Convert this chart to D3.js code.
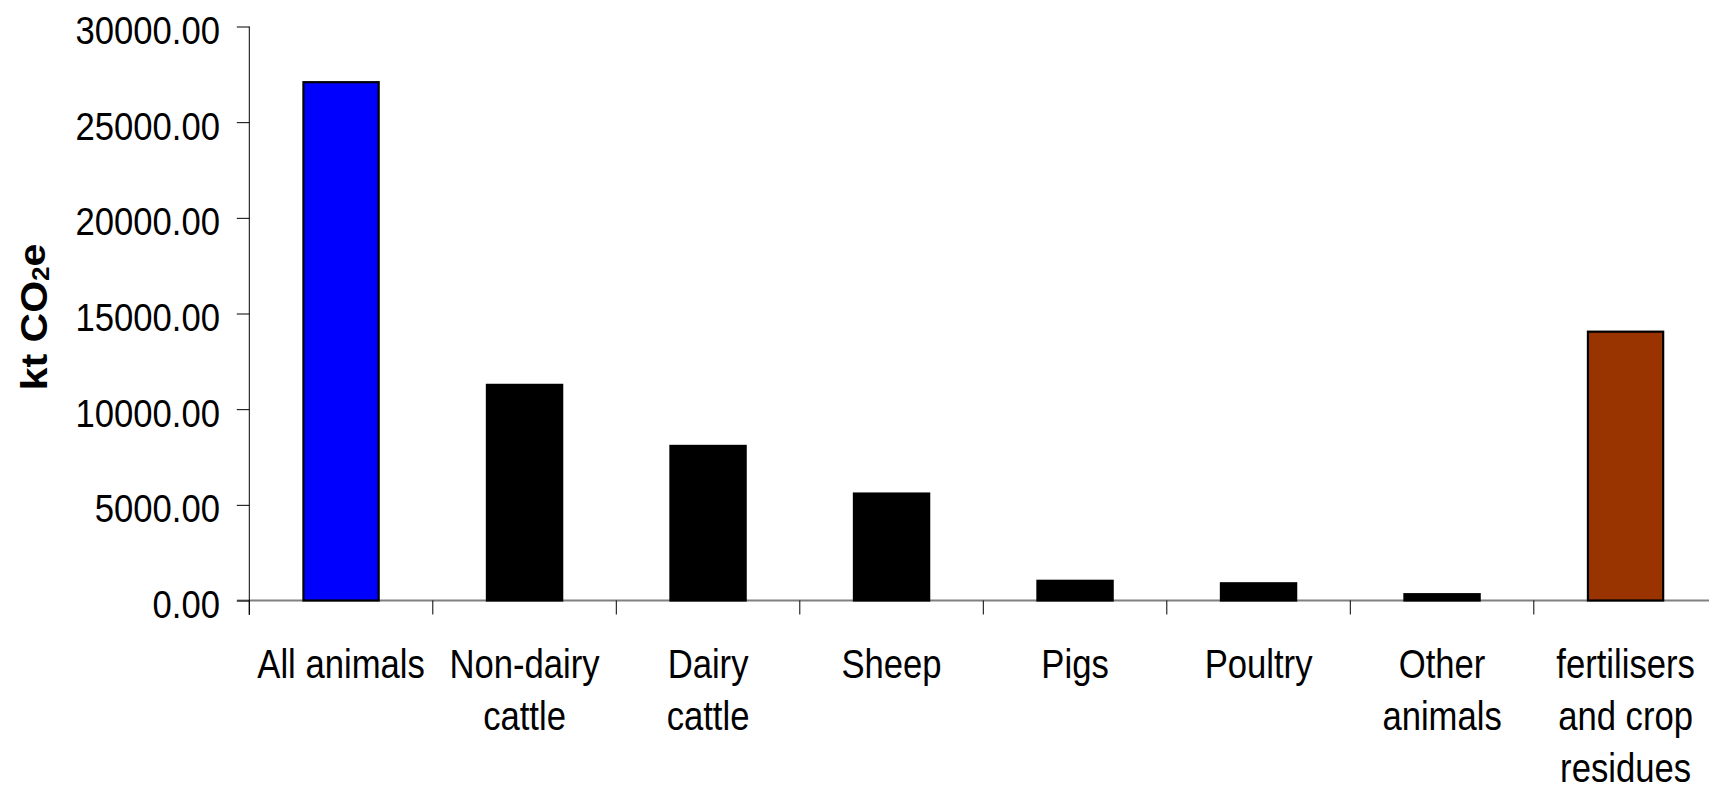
<!DOCTYPE html>
<html>
<head>
<meta charset="utf-8">
<script src="https://cdn.jsdelivr.net/npm/d3@7"></script>
<style>
  html, body { margin: 0; padding: 0; background: #fff; overflow: hidden; }
  svg { display: block; }
  text { font-family: "Liberation Sans", Arial, sans-serif; fill: #000; }
</style>
</head>
<body>
<svg id="chart" width="1709" height="790"></svg>
<script>
// ---- data ----
const categories = ["All animals", "Non-dairy|cattle", "Dairy|cattle", "Sheep", "Pigs", "Poultry", "Other|animals", "fertilisers|and crop|residues"];
const values = [27090, 11270, 8080, 5590, 1030, 900, 330, 14050];
const barColors = ["#0000FF", "#000000", "#000000", "#000000", "#000000", "#000000", "#000000", "#993300"];
const yTicks = [0, 5000, 10000, 15000, 20000, 25000, 30000];
const yLabel = "kt CO";
const yLabelSub = "2";
const yLabelEnd = "e";

// ---- layout ----
const W = 1709, H = 790;
const svg = d3.select("#chart");
const g = svg.append("g");

const x0 = 249.3, x1 = 249.3 + 8 * 183.5;
const x = d3.scaleBand()
  .domain(categories)
  .range([x0, x1])
  .paddingInner(0.59)
  .paddingOuter(0.295);
const y = d3.scaleLinear().domain([0, 30000]).range([600.5, 26.5]);

// x baseline (gray)
g.append("line")
  .attr("x1", 237).attr("x2", W + 10)
  .attr("y1", y(0)).attr("y2", y(0))
  .attr("stroke", "#808080").attr("stroke-width", 2);

// category ticks at band boundaries
const step = x.step();
const bounds = d3.range(categories.length + 1).map(i => x0 + i * step);
g.selectAll(".ctick").data(bounds).join("line")
  .attr("x1", d => d).attr("x2", d => d)
  .attr("y1", y(0)).attr("y2", y(0) + 14)
  .attr("stroke", "#000").attr("stroke-width", 1);

// y axis
const TSX = 0.9;
const yAxis = d3.axisLeft(y)
  .tickValues(yTicks)
  .tickFormat(d3.format(".2f"))
  .tickSize(12.5)
  .tickSizeOuter(0);
const ya = g.append("g").attr("transform", `translate(${x0},0)`).call(yAxis);
ya.select(".domain").remove();
ya.selectAll(".tick line").attr("stroke", "#000").attr("stroke-width", 1);
ya.selectAll(".tick text")
  .attr("font-size", 38.5)
  .attr("x", -(x0 - 220) / TSX)
  .attr("transform", `scale(${TSX},1)`)
  .attr("dy", "0.44em")
  .style("font-family", '"Liberation Sans", Arial, sans-serif')
  .attr("fill", "#000");
g.append("line")
  .attr("x1", x0).attr("x2", x0)
  .attr("y1", y(30000)).attr("y2", y(0) + 14.5)
  .attr("stroke", "#000").attr("stroke-width", 1);

// bars
g.selectAll(".bar").data(categories).join("rect")
  .attr("x", d => x(d))
  .attr("width", x.bandwidth())
  .attr("y", (d, i) => y(values[i]))
  .attr("height", (d, i) => y(0) - y(values[i]))
  .attr("fill", (d, i) => barColors[i])
  .attr("stroke", "#000")
  .attr("stroke-width", 2.2);

// category labels
const CSX = 0.845;
const lab = g.selectAll(".clabel").data(categories).join("text")
  .attr("text-anchor", "middle")
  .attr("font-size", 41)
  .attr("transform", d => `translate(${x(d) + x.bandwidth() / 2},0) scale(${CSX},1)`);
lab.each(function (d) {
  const t = d3.select(this);
  d.split("|").forEach((line, j) => {
    t.append("tspan")
      .attr("x", 0)
      .attr("y", 678 + j * 51.8)
      .text(line);
  });
});

// y axis title
const yt = g.append("text")
  .attr("transform", `translate(46.5,317) scale(0.91,1) rotate(-90)`)
  .attr("text-anchor", "middle")
  .attr("font-size", 41)
  .attr("font-weight", "bold");
yt.append("tspan").text(yLabel);
yt.append("tspan").attr("font-size", 26).attr("dy", "0.1em").text(yLabelSub);
yt.append("tspan").attr("dy", "-0.1em").text(yLabelEnd);
</script>
</body>
</html>
